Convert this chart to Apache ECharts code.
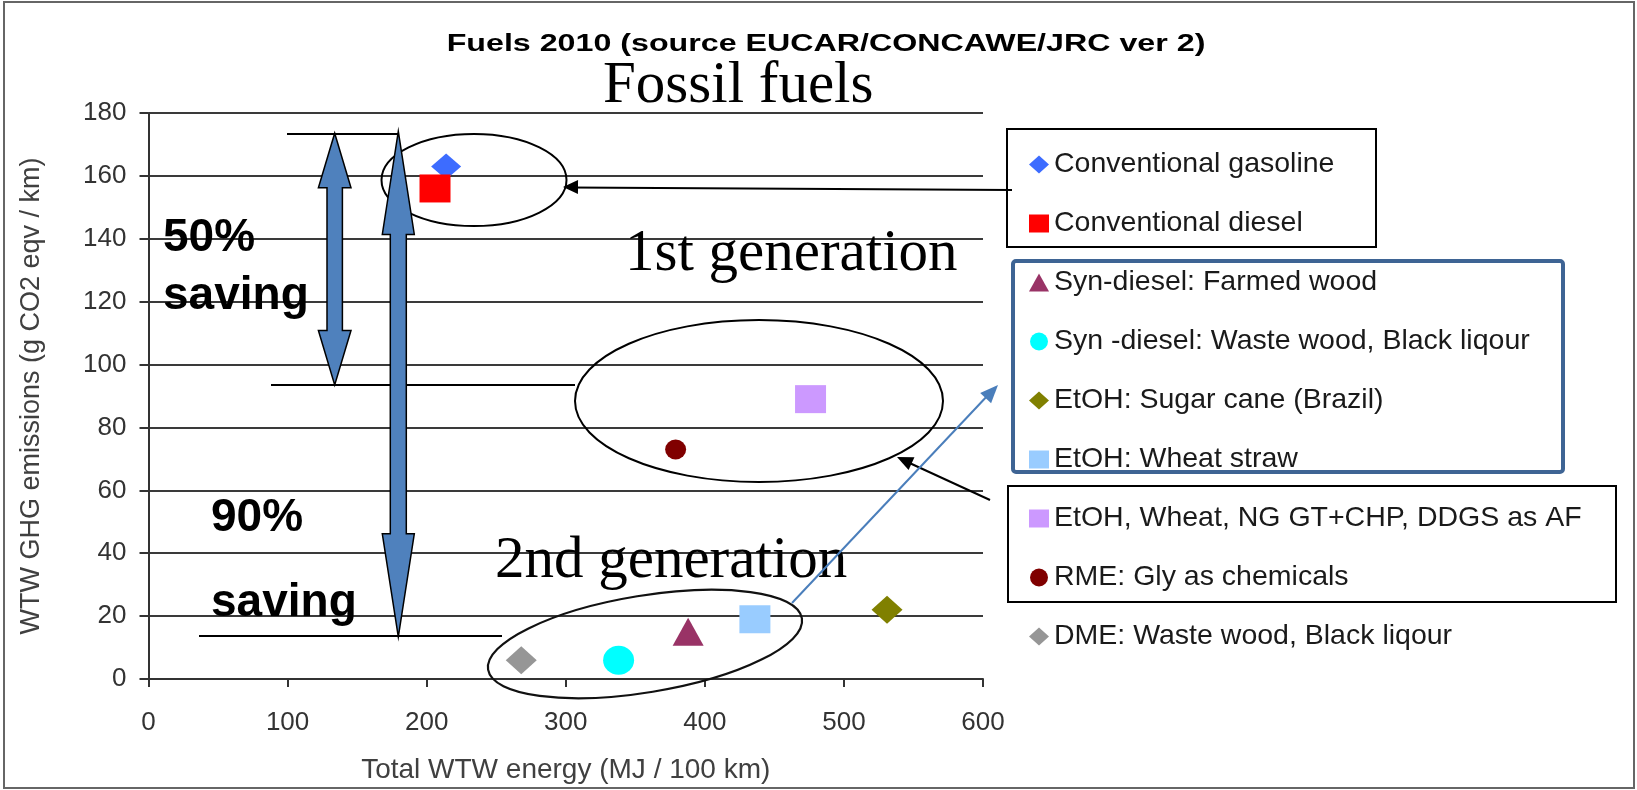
<!DOCTYPE html>
<html>
<head>
<meta charset="utf-8">
<script src="https://cdn.jsdelivr.net/npm/echarts@6/dist/echarts.min.js"></script>
<style>
html, body { margin: 0; padding: 0; background: #fff; }
#chart { width: 1637px; height: 790px; }
</style>
</head>
<body>
<div id="chart"></div>
<script>
// fuel pathways, total WTW energy (MJ/100 km) and WTW GHG (g CO2 eqv/km)
var fuelNames = [
    'Conventional gasoline',
    'Conventional diesel',
    'Syn-diesel: Farmed wood',
    'Syn -diesel: Waste wood, Black liqour',
    'EtOH: Sugar cane (Brazil)',
    'EtOH: Wheat straw',
    'EtOH, Wheat, NG GT+CHP, DDGS as AF',
    'RME: Gly as chemicals',
    'DME: Waste wood, Black liqour'
];
var energyMJ = [214, 206, 388, 338, 531, 436, 476, 379, 268];
var ghgGrams = [163, 156, 15, 6, 22, 19, 89, 73, 6];

var symbols = ['diamond', 'rect', 'triangle', 'circle', 'diamond', 'rect', 'rect', 'circle', 'diamond'];
var colors = ['#3D6CFF', '#FF0000', '#993366', '#00FFFF', '#808000', '#99CCFF', '#CC99FF', '#800000', '#969696'];
var sizes = [[30, 26], [31, 28], [31, 28], [31, 29], [31, 28], [31, 28], [31, 28], [21, 20], [31, 28]];

var sans = '"Liberation Sans", Arial, sans-serif';
var serif = '"Liberation Serif", "Times New Roman", serif';

function arrowHead(x1, y1, x2, y2, len, half, color){
    var dx = x2 - x1, dy = y2 - y1
    var d = Math.sqrt(dx * dx + dy * dy)
    var ux = dx / d, uy = dy / d
    var bx = x2 - ux * len, by = y2 - uy * len
    return {
        type: 'polygon', z: 100,
        shape: { points: [[x2, y2], [bx - uy * half, by + ux * half], [bx + uy * half, by - ux * half]] },
        style: { fill: color }
    }
}

function doubleArrow(cx, top, bot, hw, hl, sw){
    return {
        type: 'polygon', z: 100,
        shape: { points: [
            [cx, top], [cx + hw, top + hl], [cx + sw, top + hl], [cx + sw, bot - hl], [cx + hw, bot - hl],
            [cx, bot], [cx - hw, bot - hl], [cx - sw, bot - hl], [cx - sw, top + hl], [cx - hw, top + hl]
        ] },
        style: { fill: '#4F81BD', stroke: '#000', lineWidth: 1.5 }
    }
}

function line(x1, y1, x2, y2, color, w){
    return { type: 'line', z: 100, shape: { x1: x1, y1: y1, x2: x2, y2: y2 }, style: { stroke: color || '#000', lineWidth: w || 2 } }
}

function label(txt, x, y, font){
    return {
        type: 'text', z: 100, x: x, y: y,
        style: {
            text: txt, x: 0, y: 0, font: font, fill: '#000',
            textAlign: 'left', textVerticalAlign: 'middle', align: 'left', verticalAlign: 'middle'
        }
    }
}

var graphics = [
    // outer frame
    { type: 'rect', z: 1, shape: { x: 4, y: 2, width: 1630, height: 786 }, style: { fill: 'none', stroke: '#666', lineWidth: 2 } },
    // title
    {
        type: 'text', z: 100, x: 826, y: 45, scaleX: 1.4,
        style: { text: 'Fuels 2010 (source EUCAR/CONCAWE/JRC ver 2)', x: 0, y: 0, font: 'bold 23px ' + sans, fill: '#000',
            textAlign: 'center', textVerticalAlign: 'middle', align: 'center', verticalAlign: 'middle' }
    },
    label('Fossil fuels', 603, 86, '59px ' + serif),
    label('1st generation', 625, 254, '59px ' + serif),
    label('2nd generation', 495, 561, '59px ' + serif),
    label('50%', 163, 238, 'bold 46px ' + sans),
    label('saving', 163, 296, 'bold 46px ' + sans),
    label('90%', 211, 518, 'bold 46px ' + sans),
    label('saving', 211, 603, 'bold 46px ' + sans),
    // reference lines for the saving arrows
    line(287, 134, 398, 134),
    line(271, 385, 575, 385),
    line(199, 636, 502, 636),
    doubleArrow(334.7, 133.2, 385, 16.3, 54.5, 7.7),
    doubleArrow(398.3, 131.4, 636.8, 16, 103, 8),
    // group ellipses
    { type: 'ellipse', z: 99, shape: { cx: 474, cy: 180, rx: 92.5, ry: 46 }, style: { fill: 'none', stroke: '#000', lineWidth: 2 } },
    { type: 'ellipse', z: 99, shape: { cx: 759, cy: 401, rx: 184, ry: 81 }, style: { fill: 'none', stroke: '#000', lineWidth: 2 } },
    { type: 'ellipse', z: 99, x: 645, y: 644, rotation: 9.3 * Math.PI / 180, shape: { cx: 0, cy: 0, rx: 159, ry: 48.4 }, style: { fill: 'none', stroke: '#111', lineWidth: 2.2 } },
    // pointers from the legend boxes
    line(1012, 190, 570, 187.5),
    arrowHead(1012, 190, 563, 187, 15, 7, '#000'),
    line(990, 500, 903, 460),
    arrowHead(990, 500, 897, 457, 16, 7, '#000'),
    line(792, 603, 990, 393, '#4A7EBB', 2),
    arrowHead(792, 603, 998, 385, 18, 7.5, '#4A7EBB'),
    // legend boxes
    { type: 'rect', z: 100, shape: { x: 1007, y: 129, width: 369, height: 118 }, style: { fill: 'none', stroke: '#000', lineWidth: 2 } },
    { type: 'rect', z: 100, shape: { x: 1013, y: 261, width: 550, height: 211, r: 3 }, style: { fill: 'none', stroke: '#3E6494', lineWidth: 4 } },
    { type: 'rect', z: 100, shape: { x: 1008, y: 486, width: 608, height: 116 }, style: { fill: 'none', stroke: '#000', lineWidth: 2 } }
]

var option = {
    animation: false,
    backgroundColor: '#fff',
    grid: { left: 148.5, right: 654, top: 113, bottom: 111, containLabel: false },
    xAxis: {
        type: 'value', min: 0, max: 600, interval: 100,
        name: 'Total WTW energy (MJ / 100 km)',
        nameLocation: 'middle', nameGap: 77,
        nameTextStyle: { fontFamily: sans, fontSize: 28, color: '#404040' },
        axisLine: { show: true, onZero: false, lineStyle: { color: '#333', width: 2 } },
        axisTick: { show: true, inside: false, length: 8, lineStyle: { color: '#333', width: 2 } },
        axisLabel: { fontFamily: sans, fontSize: 26, color: '#333', margin: 31 },
        splitLine: { show: false }
    },
    yAxis: {
        type: 'value', min: 0, max: 180, interval: 20,
        name: 'WTW GHG emissions (g CO2 eqv / km)',
        nameLocation: 'middle', nameGap: 103,
        nameTextStyle: { fontFamily: sans, fontSize: 27, color: '#404040' },
        axisLine: { show: true, lineStyle: { color: '#333', width: 2 } },
        axisTick: { show: true, inside: false, length: 9, lineStyle: { color: '#333', width: 2 } },
        axisLabel: { fontFamily: sans, fontSize: 26, color: '#333', margin: 22 },
        splitLine: { show: true, lineStyle: { color: '#3a3a3a', width: 2 } }
    },
    legend: {
        data: fuelNames,
        orient: 'vertical',
        left: 1029, top: 150,
        padding: 0,
        itemWidth: 20, itemHeight: 18, itemGap: 30,
        selectedMode: false,
        textStyle: { fontFamily: sans, fontSize: 28.5, color: '#1a1a1a', lineHeight: 27 }
    },
    graphic: graphics,
    series: fuelNames.map(function(name, i){
        return {
            name: name,
            type: 'scatter',
            symbol: symbols[i],
            symbolSize: sizes[i],
            itemStyle: { color: colors[i], opacity: 1 },
            emphasis: { disabled: true },
            z: 3,
            data: [[energyMJ[i], ghgGrams[i]]]
        }
    })
}

var myChart = echarts.init(document.getElementById('chart'), null, { renderer: 'canvas' })
myChart.setOption(option)
</script>
</body>
</html>
